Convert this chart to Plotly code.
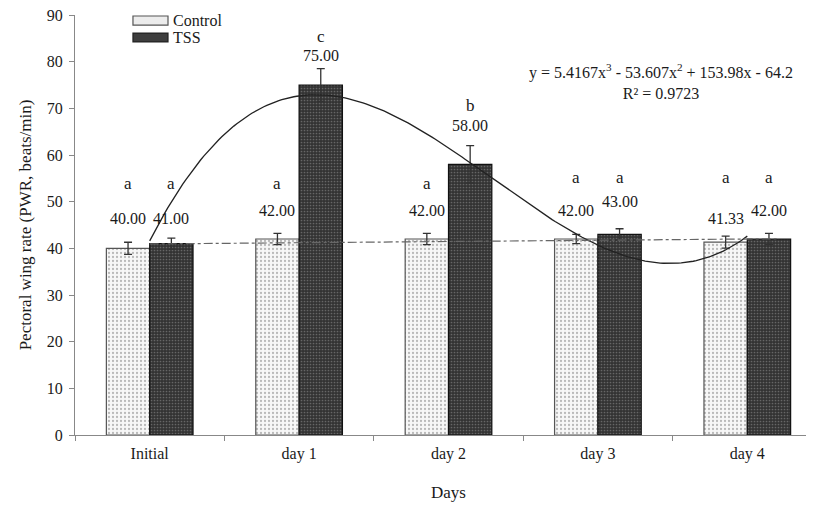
import numpy as np
import plotly.graph_objects as go

categories = ["Initial", "day 1", "day 2", "day 3", "day 4"]
control = [40.00, 42.00, 42.00, 42.00, 41.33]
tss = [41.00, 75.00, 58.00, 43.00, 42.00]
control_err = [1.3, 1.2, 1.2, 1.0, 1.3]
tss_err = [1.2, 3.5, 4.0, 1.2, 1.2]
control_letters = ["a", "a", "a", "a", "a"]
tss_letters = ["a", "c", "b", "a", "a"]
series_names = ["Control", "TSS"]
# trendline equation shown on the chart (Excel x = 1..5)
cubic_coef = [5.4167, -53.607, 153.98, -64.2]
eq_text = "y = 5.4167x<sup>3</sup> - 53.607x<sup>2</sup> + 153.98x - 64.2<br>R² = 0.9723"

# label heights (data units)
control_letter_y = [54.0, 54.0, 54.0, 55.1, 55.1]
control_value_y = [46.5, 48.2, 48.2, 48.2, 46.3]
tss_letter_y = [54.0, 85.3, 70.7, 55.1, 55.1]
tss_value_y = [46.5, 81.4, 66.4, 50.1, 48.2]

FONT = "Liberation Serif"
ink = "#1a1a1a"

fig = go.Figure()
fig.add_trace(go.Bar(
    x=categories, y=control, name=series_names[0], showlegend=False,
    marker=dict(color="#f7f7f7", line=dict(color="#555555", width=1.2),
                pattern=dict(shape=".", fgcolor="#7a7a7a", bgcolor="#f7f7f7", size=4, solidity=0.25)),
    error_y=dict(type="data", array=control_err, color="#333333", thickness=1.3, width=4),
))
fig.add_trace(go.Bar(
    x=categories, y=tss, name=series_names[1], showlegend=False,
    marker=dict(color="#3a3a3a", line=dict(color="#111111", width=1.2),
                pattern=dict(shape=".", fgcolor="#9a9a9a", bgcolor="#333333", size=3, solidity=0.25)),
    error_y=dict(type="data", array=tss_err, color="#333333", thickness=1.3, width=4),
))

# trendlines on an overlaid numeric axis (category centres 0..4 = Excel x 1..5)
xs = np.linspace(0, 4, 200)
ys = np.polyval(cubic_coef, xs + 1)
fig.add_trace(go.Scatter(x=xs, y=ys, xaxis="x2", mode="lines",
                         line=dict(color="#222222", width=1.3), showlegend=False, hoverinfo="skip"))
lin = np.polyfit(np.arange(1, 6), control, 1)
xl = np.array([0, 4.2])
fig.add_trace(go.Scatter(x=xl, y=np.polyval(lin, xl + 1), xaxis="x2", mode="lines",
                         line=dict(color="#666666", width=1.2, dash="dashdot"),
                         showlegend=False, hoverinfo="skip"))

off = 0.145
ann = []
for i in range(len(categories)):
    for dx, letter, ly, val, vy in [
        (-off, control_letters[i], control_letter_y[i], control[i], control_value_y[i]),
        (off, tss_letters[i], tss_letter_y[i], tss[i], tss_value_y[i]),
    ]:
        ann.append(dict(x=i + dx, y=ly, xref="x2", yref="y", text=letter, showarrow=False,
                        font=dict(family=FONT, size=17, color=ink)))
        ann.append(dict(x=i + dx, y=vy, xref="x2", yref="y", text=f"{val:.2f}", showarrow=False,
                        font=dict(family=FONT, size=16, color=ink)))
ann.append(dict(x=3.42, y=75.8, xref="x2", yref="y", text=eq_text, showarrow=False,
                align="center", font=dict(family=FONT, size=16, color=ink)))

# manual legend (wide swatches as in the reference)
shapes = [
    dict(type="rect", xref="paper", yref="paper", x0=0.0776, x1=0.1245, y0=0.976, y1=0.9976,
         fillcolor="#ececec", line=dict(color="#555555", width=1.2)),
    dict(type="rect", xref="paper", yref="paper", x0=0.0776, x1=0.1245, y0=0.936, y1=0.957,
         fillcolor="#3e3e3e", line=dict(color="#222222", width=1.2)),
]
ann.append(dict(x=0.129, y=0.9865, xref="paper", yref="paper", text=series_names[0], showarrow=False,
                xanchor="left", yanchor="middle", font=dict(family=FONT, size=16, color=ink)))
ann.append(dict(x=0.129, y=0.9465, xref="paper", yref="paper", text=series_names[1], showarrow=False,
                xanchor="left", yanchor="middle", font=dict(family=FONT, size=16, color=ink)))

xr = [-0.5, 4.5]
fig.update_layout(
    width=814, height=508,
    margin=dict(l=67, r=0, t=7, b=81),
    paper_bgcolor="white", plot_bgcolor="white",
    barmode="group", bargap=0.42, bargroupgap=0,
    font=dict(family=FONT, size=16, color=ink),
    showlegend=False,
    xaxis=dict(type="category", range=xr, showline=True, linecolor="#888888", linewidth=1,
               ticks="outside", tickson="boundaries", ticklen=5, tickcolor="#888888",
               showgrid=False, tickfont=dict(family=FONT, size=16), ticklabelstandoff=4,
               automargin=False,
               title=dict(text="Days", font=dict(family=FONT, size=17), standoff=23)),
    xaxis2=dict(overlaying="x", range=xr, visible=False),
    yaxis=dict(range=[0, 90], dtick=10, showline=True, linecolor="#888888", linewidth=1,
               ticks="outside", ticklen=5, tickcolor="#888888", showgrid=False, zeroline=False,
               tickfont=dict(family=FONT, size=16), ticklabelstandoff=3, automargin=False,
               ticklabeloverflow="allow",
               title=dict(text="Pectoral wing rate (PWR, beats/min)", font=dict(family=FONT, size=17),
                          standoff=10)),
    shapes=shapes,
    annotations=ann,
)

fig.write_html("out.html")
